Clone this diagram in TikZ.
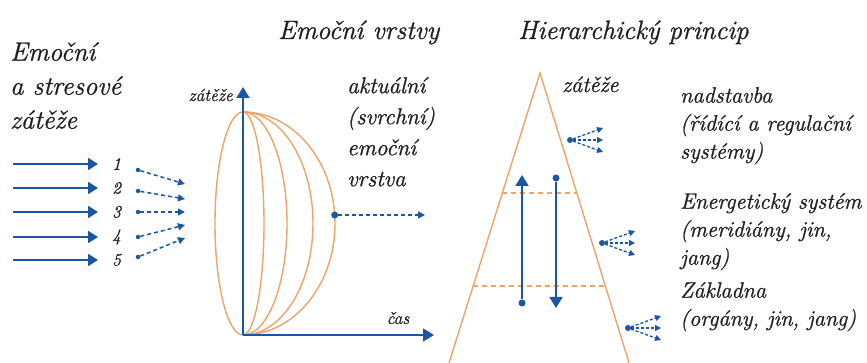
\documentclass[tikz,border=0pt]{standalone}
\usepackage{fontspec}
\setmainfont{lmroman12-regular}[Extension=.otf,ItalicFont=lmroman12-italic,
  ItalicFeatures={FakeBold=1}]
\usetikzlibrary{arrows.meta,positioning,calc}
\definecolor{flow}{HTML}{1A56A4}
\definecolor{layer}{HTML}{EBA46A}
\definecolor{ink}{HTML}{231F20}
\tikzset{
  headline/.style={font=\itshape\fontsize{26.5}{34}\selectfont,text=ink,inner sep=0pt,align=left},
  caption/.style={font=\itshape\fontsize{22.3}{28}\selectfont,text=ink,inner sep=0pt,align=left},
  axislabel/.style={font=\itshape\fontsize{17.5}{20}\selectfont,text=ink,inner sep=0pt},
  loadarrow/.style={-{Triangle[length=10pt,width=12pt]},line width=1.8pt,draw=flow},
  axisarrow/.style={-{Triangle[length=11pt,width=13pt]},line width=1.8pt,draw=flow},
  spreadarrow/.style={-{Triangle[length=7pt,width=7pt]},line width=1.5pt,draw=flow,
    dash pattern=on 4pt off 3pt},
  tinyarrow/.style={-{Triangle[length=6pt,width=6pt]},line width=1.3pt,draw=flow,
    dash pattern=on 3pt off 2pt},
  bigdot/.style={circle,fill=flow,inner sep=0pt,minimum size=7pt},
  smalldot/.style={circle,fill=flow,inner sep=0pt,minimum size=4.5pt},
  shell/.style={draw=layer,line width=1.4pt},
  levelline/.style={draw=layer,line width=1.3pt,dash pattern=on 5pt off 4pt},
}
\begin{document}
\begin{tikzpicture}[x=1pt,y=1pt]
  \useasboundingbox (0,0) rectangle (867,363);

  \node[headline,anchor=north west] (loads) at (10,321) {Emoční\\a stresové\\zátěže};
  \foreach \i/\y in {1/199,2/175,3/151,4/126,5/103} {
    \coordinate (src\i) at (13,\y);
    \coordinate (hit\i) at (98,\y);
    \node[axislabel,anchor=west] (num\i) at (112,\y) {\i};
    \draw[loadarrow] (src\i) -- (hit\i);
  }
  \foreach \i/\a/\b in {1/193/179,2/172/164,3/151/151,4/126/138,5/106/125} {
    \node[smalldot] (d\i) at (138,\a) {};
    \coordinate (t\i) at (185,\b);
    \draw[spreadarrow] (d\i) -- (t\i);
  }

  \node[headline,anchor=base west] (title1) at (278,324) {Emoční vrstvy};
  \draw[shell] (243,251) arc[start angle=90,end angle=270,x radius=28,y radius=111.5];
  \foreach \r in {21,44,70,92}
    \draw[shell] (243,251) arc[start angle=90,end angle=-90,x radius=\r,y radius=111.5];
  \coordinate (orig) at (243,28);
  \coordinate (ytip) at (243,276);
  \coordinate (xtip) at (434,28);
  \draw[axisarrow] (orig) -- (ytip);
  \draw[axisarrow] (orig) -- (xtip);
  \node[axislabel,anchor=east] (ylab) at (233,268) {zátěže};
  \node[axislabel] (xlab) at (398,45) {čas};
  \node[caption,anchor=north west,font=\itshape\fontsize{23}{31}\selectfont] (top) at (347,286)
    {aktuální\\(svrchní)\\emoční\\vrstva};
  \node[bigdot] (surf) at (334.7,148) {};
  \coordinate (surfend) at (425,148);
  \draw[spreadarrow] (surf) -- (surfend);

  \node[headline,anchor=base west] (title2) at (518,324) {Hierarchický princip};
  \coordinate (apex) at (540,290);
  \coordinate (bl) at (449,0);
  \coordinate (br) at (629,0);
  \draw[shell] (bl) -- (apex) -- (br);
  \draw[levelline] ($(apex)!0.414!(bl)$) -- ($(apex)!0.414!(br)$);
  \draw[levelline] ($(apex)!0.734!(bl)$) -- ($(apex)!0.734!(br)$);
  \node[caption,anchor=base west] (tload) at (562,271) {zátěže};
  \node[bigdot] (rise) at (522,60) {};
  \coordinate (risetip) at (522,188);
  \draw[axisarrow] (rise) -- (risetip);
  \node[bigdot] (fall) at (556,185) {};
  \coordinate (falltip) at (556,55);
  \draw[axisarrow] (fall) -- (falltip);
  \foreach \n/\x/\y in {a/570/223,b/602/120,c/628/35} {
    \node[bigdot,minimum size=6pt] (f\n) at (\x,\y) {};
    \foreach \k/\dy in {1/12,2/0,3/-12} {
      \coordinate (f\n\k) at ($(f\n)+(33,\dy)$);
      \draw[tinyarrow] (f\n) -- (f\n\k);
    }
  }
  \node[caption,anchor=north west] (upper) at (680,276)
    {nadstavba\\(řídící a regulační\\systémy)};
  \node[caption,anchor=north west] (middle) at (680,170)
    {Energetický systém\\(meridiány, jin,\\jang)};
  \node[caption,anchor=north west] (lower) at (680,81)
    {Základna\\(orgány, jin, jang)};
\end{tikzpicture}
\end{document}
